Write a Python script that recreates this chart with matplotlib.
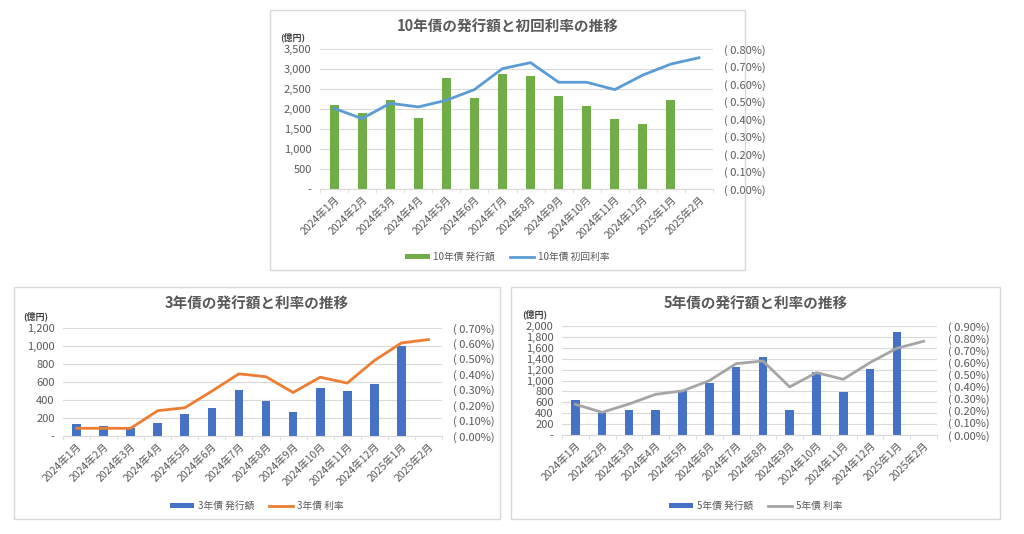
import numpy as np
import matplotlib
matplotlib.use("Agg")
import matplotlib.pyplot as plt
from matplotlib.patches import Rectangle
from matplotlib.ticker import FuncFormatter, FixedLocator

plt.rcParams['font.family'] = ['Noto Sans CJK JP', 'DejaVu Sans']

months = ["2024年1月", "2024年2月", "2024年3月", "2024年4月", "2024年5月", "2024年6月",
          "2024年7月", "2024年8月", "2024年9月", "2024年10月", "2024年11月", "2024年12月",
          "2025年1月", "2025年2月"]

# 10年債
amount_10y = [2110, 1900, 2230, 1770, 2780, 2280, 2880, 2830, 2330, 2080, 1750, 1630, 2230, np.nan]
rate_10y = [0.461, 0.402, 0.490, 0.469, 0.507, 0.568, 0.688, 0.722, 0.610, 0.610, 0.568, 0.651, 0.714, 0.750]

# 3年債
amount_3y = [128, 111, 92, 144, 240, 314, 513, 388, 270, 528, 502, 576, 1000, np.nan]
rate_3y = [0.050, 0.050, 0.050, 0.164, 0.183, 0.291, 0.403, 0.384, 0.282, 0.381, 0.343, 0.489, 0.603, 0.625]

# 5年債
amount_5y = [640, 404, 459, 453, 813, 960, 1254, 1437, 453, 1162, 795, 1217, 1890, np.nan]
rate_5y = [0.253, 0.187, 0.256, 0.336, 0.364, 0.449, 0.589, 0.611, 0.397, 0.515, 0.460, 0.598, 0.716, 0.774]

W, H = 1024, 534
fig = plt.figure(figsize=(W / 100, H / 100), dpi=100)
fig.patch.set_facecolor("white")

TXT = "#595959"
GRID = "#d9d9d9"


def fbox(x0, y0, x1, y1):
    # pixel box (top-left origin) -> figure fraction [l, b, w, h]
    return [x0 / W, 1 - y1 / H, (x1 - x0) / W, (y1 - y0) / H]


def left_fmt(v, pos):
    if v == 0:
        return "-"
    return f"{int(v):,}"


def right_fmt(v, pos):
    return f"( {v:.2f}%)"


def make_panel(panel, area, title, amounts, rates, bar_color, line_color,
               ymax, ystep, rmax, bar_label, line_label):
    px0, py0, px1, py1 = panel
    fig.add_artist(Rectangle((px0 / W, 1 - py1 / H), (px1 - px0) / W, (py1 - py0) / H,
                             transform=fig.transFigure, fill=False, edgecolor=GRID, lw=1))
    ax = fig.add_axes(fbox(*area))
    x = np.arange(len(months))
    ax.bar(x, amounts, width=0.32, color=bar_color, zorder=2, label=bar_label)
    ax.set_xlim(-0.5, len(months) - 0.5)
    ax.set_ylim(0, ymax)
    ax.set_yticks(np.arange(0, ymax + 1, ystep))
    ax.yaxis.set_major_formatter(FuncFormatter(left_fmt))
    ax.grid(axis="y", color=GRID, lw=0.8, zorder=0)
    ax.set_axisbelow(True)
    for s in ["top", "right", "left"]:
        ax.spines[s].set_visible(False)
    ax.spines["bottom"].set_color(GRID)
    ax.set_xticks(x)
    ax.set_xticklabels(months, rotation=45, ha="right", rotation_mode="anchor",
                       fontsize=7.5, color=TXT)
    ax.tick_params(axis="x", which="major", length=0, pad=4)
    ax.xaxis.set_minor_locator(FixedLocator(np.arange(-0.5, len(months), 1.0)))
    ax.tick_params(axis="x", which="minor", length=3, color=GRID)
    ax.tick_params(axis="y", length=0, labelsize=8, labelcolor=TXT, pad=6)

    ax2 = ax.twinx()
    ax2.plot(x, rates, color=line_color, lw=2, zorder=3, label=line_label)
    ax2.set_ylim(0, rmax)
    ax2.set_yticks(np.arange(0, rmax + 0.001, 0.1))
    ax2.yaxis.set_major_formatter(FuncFormatter(right_fmt))
    ax2.tick_params(axis="y", length=0, labelsize=8, labelcolor=TXT, pad=8)
    for s in ax2.spines.values():
        s.set_visible(False)

    cx = (px0 + px1) / 2
    fig.text(cx / W, 1 - (py0 + 17) / H, title, ha="center", va="center",
             fontsize=10.5, fontweight="bold", color=TXT)
    fig.text((area[0] - 40) / W, 1 - (area[1] - 12) / H, "(億円)", ha="left", va="center",
             fontsize=6.5, fontweight="bold", color="#404040")

    h1, l1 = ax.get_legend_handles_labels()
    h2, l2 = ax2.get_legend_handles_labels()
    fig.legend(h1 + h2, l1 + l2, loc="center", ncol=2, frameon=False, fontsize=7,
               labelcolor=TXT, handlelength=2.5, handleheight=0.4, columnspacing=1.5,
               handletextpad=0.4, bbox_to_anchor=(cx / W, 1 - (py1 - 13) / H))
    return ax, ax2


make_panel((270, 10, 745, 270), (320, 49, 713, 189), "10年債の発行額と初回利率の推移",
           amount_10y, rate_10y, "#70ad47", "#5b9bd5", 3500, 500, 0.8,
           "10年債 発行額", "10年債 初回利率")
make_panel((14, 287, 500, 519), (63, 328, 442, 436), "3年債の発行額と利率の推移",
           amount_3y, rate_3y, "#4472c4", "#ed7d31", 1200, 200, 0.7,
           "3年債 発行額", "3年債 利率")
make_panel((511, 287, 1000, 519), (562, 326, 937, 435), "5年債の発行額と利率の推移",
           amount_5y, rate_5y, "#4472c4", "#a5a5a5", 2000, 200, 0.9,
           "5年債 発行額", "5年債 利率")

fig.savefig("out.png", dpi=100, facecolor="white")
